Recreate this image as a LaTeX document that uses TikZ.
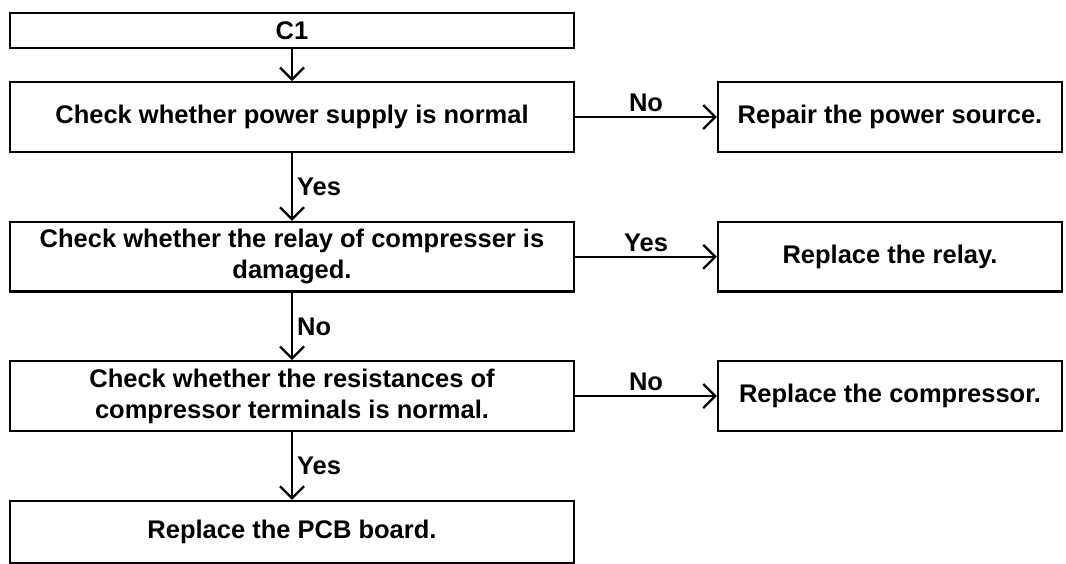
\documentclass[tikz,border=0pt]{standalone}
\usepackage{fontspec}
\setmainfont{Liberation Sans}
\usetikzlibrary{arrows.meta}
\tikzset{
  stepbox/.style = {draw,line width=2.4pt,minimum width=564pt,minimum height=69.5pt,
                    align=center,inner sep=0pt},
  fixbox/.style  = {stepbox,minimum width=344pt},
  flowarr/.style = {-{Straight Barb[length=12pt,width=24pt,line width=2.2pt]},line width=2.2pt},
  answer/.style  = {inner sep=4pt}
}

\begin{document}
\begin{tikzpicture}[x=1pt,y=-1pt,font=\bfseries\fontsize{25.5}{31}\selectfont]
  \useasboundingbox (0,0) rectangle (1066,563);
  \node[stepbox,minimum height=35pt] (c1) at (292,30.5) {C1};
  \node[stepbox] (power) at (292,117) {Check whether power supply is normal};
  \node[fixbox] (repair) at (890,117) {Repair the power source.};
  \node[stepbox] (relay) at (292,256.75) {Check whether the relay of compresser is\\damaged.};
  \node[fixbox] (newrelay) at (890,256.75) {Replace the relay.};
  \node[stepbox] (resist) at (292,396) {Check whether the resistances of\\compressor terminals is normal.};
  \node[fixbox] (newcomp) at (890,396) {Replace the compressor.};
  \node[stepbox,minimum height=62pt] (pcb) at (292,532) {Replace the PCB board.};

  \draw[flowarr] (c1) -- (power);
  \draw[flowarr] (power) -- node[answer,above]{No} (repair);
  \draw[flowarr] (power) -- node[answer,right]{Yes} (relay);
  \draw[flowarr] (relay) -- node[answer,above]{Yes} (newrelay);
  \draw[flowarr] (relay) -- node[answer,right]{No} (resist);
  \draw[flowarr] (resist) -- node[answer,above]{No} (newcomp);
  \draw[flowarr] (resist) -- node[answer,right]{Yes} (pcb);
\end{tikzpicture}
\end{document}
